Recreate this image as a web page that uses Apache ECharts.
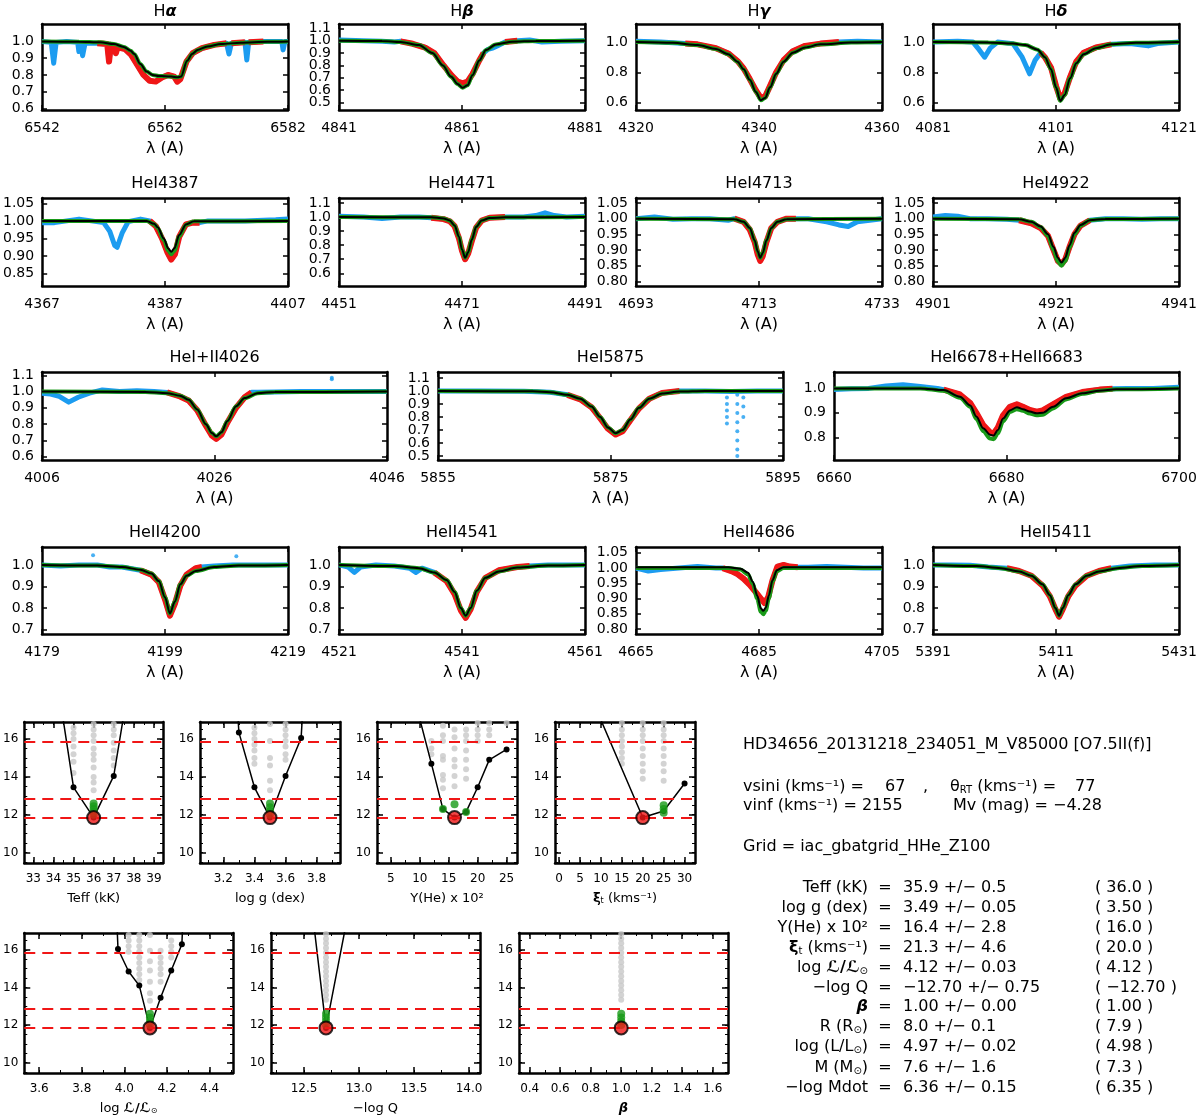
<!DOCTYPE html>
<html>
<head>
<meta charset="utf-8">
<script src="https://cdn.jsdelivr.net/npm/echarts@6/dist/echarts.min.js"></script>
<style>
html, body { margin: 0; padding: 0; background: #fff; }
#main { width: 1200px; height: 1116px; }
</style>
</head>
<body>
<div id="main"></div>
<script>
// ---- line profiles: [wavelength (A), normalised flux] ----
var haObs = [[6542,1.0],[6543.5,0.995],[6543.9,0.87],[6544.3,0.995],[6546,1.0],[6547.8,0.995],[6548,0.94],[6548.3,0.99],[6548.6,0.915],[6549,0.99],[6551,0.99],[6552.6,0.985],[6552.9,0.88],[6553.2,0.98],[6553.8,0.97],[6554,0.93],[6554.3,0.965],[6555.5,0.955],[6556.5,0.92],[6557.5,0.86],[6558.5,0.8],[6559.5,0.765],[6560.5,0.76],[6561.5,0.785],[6562.5,0.8],[6563.5,0.79],[6564,0.76],[6564.5,0.775],[6565.5,0.88],[6566.5,0.93],[6568,0.96],[6570,0.98],[6572,0.99],[6572.4,0.925],[6572.8,0.99],[6575,0.995],[6575.3,0.89],[6575.6,0.995],[6578,1.0],[6581,1.0],[6581.2,0.95],[6581.5,1.0],[6582,1.0]];
var haFit = [[6542,1.0],[6548,0.999],[6551.5,0.995],[6553.7,0.985],[6555.3,0.968],[6556.4,0.945],[6557,0.925],[6558,0.865],[6559,0.82],[6560,0.8],[6561,0.794],[6562,0.792],[6563,0.79],[6564,0.786],[6564.6,0.79],[6565.6,0.885],[6566.4,0.925],[6567.3,0.95],[6568.9,0.97],[6571.1,0.985],[6574.3,0.993],[6578.7,0.998],[6582,1.0]];
var haWin = [[6549.3,6572.2],[6572.6,6575.1],[6575.5,6578.7]];

var hbObs = [[4841,1.005],[4845,1.0],[4848,0.995],[4850,0.99],[4851,0.995],[4853,0.975],[4855,0.945],[4856.5,0.9],[4858,0.8],[4859.3,0.72],[4860.3,0.67],[4861.1,0.655],[4861.9,0.67],[4862.7,0.73],[4863.8,0.84],[4864.5,0.9],[4865.2,0.93],[4866,0.94],[4866.8,0.96],[4868,0.99],[4870,1.0],[4872,1.005],[4874,0.99],[4877,0.995],[4881,1.0]];
var hbFit = [[4841,1.0],[4848,0.998],[4851,0.99],[4854,0.965],[4856.2,0.9],[4857.9,0.8],[4859.2,0.71],[4860.3,0.65],[4861.1,0.62],[4861.9,0.64],[4862.7,0.72],[4863.8,0.84],[4864.9,0.925],[4866.5,0.97],[4869.2,0.992],[4873,0.998],[4881,1.0]];
var hbWin = [[4850.8,4864.9],[4868,4871.9]];

var hgObs = [[4320,1.005],[4324,1.0],[4328,0.99],[4330,0.985],[4333,0.96],[4335,0.925],[4336.5,0.875],[4337.5,0.825],[4338.5,0.755],[4339.5,0.68],[4340.3,0.63],[4341,0.64],[4341.8,0.71],[4342.8,0.8],[4344,0.88],[4345.5,0.94],[4347.5,0.975],[4350,0.99],[4353,1.0],[4356,1.005],[4360,1.0]];
var hgFit = [[4320,1.0],[4326,0.995],[4330,0.98],[4333,0.955],[4335,0.92],[4336.5,0.87],[4337.5,0.82],[4338.5,0.75],[4339.5,0.67],[4340.3,0.615],[4341,0.63],[4341.8,0.7],[4342.8,0.79],[4344,0.87],[4345.5,0.93],[4347.5,0.965],[4350,0.985],[4355,0.997],[4360,1.0]];
var hgWin = [[4328,4353]];

var hdObs = [[4081,1.0],[4085,1.005],[4087.5,1.0],[4088.5,0.95],[4089.4,0.9],[4090.3,0.96],[4091.5,1.0],[4094,0.99],[4095.5,0.9],[4096.7,0.79],[4097.6,0.88],[4098.5,0.93],[4099.2,0.9],[4100.2,0.83],[4101,0.71],[4101.7,0.625],[4102.4,0.66],[4103.3,0.77],[4104.3,0.87],[4105.5,0.93],[4107.5,0.965],[4110,0.985],[4113,0.99],[4116,0.975],[4117.5,0.99],[4121,1.0]];
var hdFit = [[4081,1.0],[4090,0.998],[4094,0.99],[4096,0.98],[4098,0.95],[4099.2,0.9],[4100.2,0.82],[4101,0.7],[4101.7,0.61],[4102.4,0.65],[4103.3,0.76],[4104.3,0.86],[4105.5,0.92],[4107.5,0.96],[4110,0.985],[4114,0.995],[4121,1.0]];
var hdWin = [[4098.5,4110]];

var he4387Obs = [[4367,0.995],[4369,0.995],[4371,1.0],[4373,1.005],[4375,1.0],[4377,0.995],[4378,0.97],[4378.8,0.93],[4379.2,0.925],[4380,0.965],[4381,0.998],[4383,1.005],[4384.5,1.0],[4385.5,0.985],[4386.5,0.95],[4387.4,0.91],[4388,0.89],[4388.6,0.905],[4389.3,0.955],[4390.4,0.99],[4391.5,0.995],[4392.6,0.995],[4394,1.0],[4397,1.0],[4400,1.0],[4403,1.002],[4405,1.003],[4407,1.005]];
var he4387Fit = [[4367,1.0],[4384,1.0],[4385.2,0.992],[4385.8,0.982],[4386.8,0.95],[4387.5,0.922],[4388,0.912],[4388.5,0.922],[4389.3,0.96],[4390.4,0.99],[4391.7,0.999],[4407,1.0]];
var he4387Mod = [[4367,1.0],[4384,1.0],[4385.2,0.991],[4385.8,0.98],[4386.8,0.945],[4387.5,0.915],[4388,0.905],[4388.5,0.915],[4389.3,0.956],[4390.4,0.989],[4391.7,0.999],[4407,1.0]];
var he4387Win = [[4384.5,4392.6]];

var he4471Obs = [[4451,1.005],[4455,1.0],[4458,0.99],[4461,1.0],[4464,1.0],[4466,0.995],[4468,0.985],[4469,0.97],[4469.8,0.935],[4470.5,0.85],[4471,0.76],[4471.5,0.7],[4472,0.74],[4472.6,0.83],[4473.3,0.925],[4474.2,0.975],[4475.5,0.995],[4478,1.0],[4481,1.0],[4483,1.01],[4484.5,1.03],[4486,1.01],[4488,1.0],[4491,1.005]];
var he4471Fit = [[4451,1.0],[4466,0.998],[4468,0.99],[4469,0.975],[4469.8,0.94],[4470.5,0.86],[4471,0.77],[4471.5,0.71],[4472,0.75],[4472.6,0.84],[4473.3,0.93],[4474.2,0.975],[4475.5,0.993],[4478,0.998],[4491,1.0]];
var he4471Win = [[4465,4478]];

var he4713Obs = [[4693,1.0],[4696,1.005],[4699,0.998],[4702,1.0],[4705,1.0],[4708,0.995],[4709,1.0],[4710.5,0.99],[4711.5,0.965],[4712.3,0.925],[4712.8,0.885],[4713.2,0.865],[4713.6,0.88],[4714.2,0.925],[4715,0.97],[4716,0.99],[4717.5,1.0],[4719,1.0],[4721,1.0],[4724,0.99],[4726,0.98],[4727.5,0.975],[4729,0.99],[4731,0.995],[4733,1.0]];
var he4713Fit = [[4693,1.0],[4709,0.998],[4710.5,0.99],[4711.5,0.97],[4712.3,0.93],[4712.8,0.895],[4713.2,0.875],[4713.6,0.89],[4714.2,0.93],[4715,0.97],[4716,0.99],[4717.5,0.998],[4733,1.0]];
var he4713Win = [[4708.5,4719]];

var he4922Obs = [[4901,1.005],[4903,1.01],[4905,1.008],[4907,1.0],[4910,1.0],[4913,0.998],[4915,0.995],[4917,0.985],[4918.5,0.97],[4919.7,0.945],[4920.6,0.9],[4921.3,0.865],[4921.9,0.855],[4922.5,0.87],[4923.2,0.91],[4924,0.95],[4925,0.978],[4926.5,0.995],[4929,1.0],[4932,1.0],[4935,0.998],[4938,1.0],[4941,1.0]];
var he4922Fit = [[4901,1.0],[4915,0.998],[4917,0.99],[4918.5,0.975],[4919.7,0.95],[4920.6,0.91],[4921.3,0.875],[4921.9,0.86],[4922.5,0.875],[4923.2,0.915],[4924,0.955],[4925,0.98],[4926.5,0.995],[4929,0.999],[4941,1.0]];
var he4922Mod = [[4901,1.0],[4915,0.998],[4917,0.99],[4918.5,0.973],[4919.7,0.945],[4920.6,0.9],[4921.3,0.863],[4921.9,0.85],[4922.5,0.865],[4923.2,0.908],[4924,0.95],[4925,0.978],[4926.5,0.995],[4929,0.999],[4941,1.0]];
var he4922Win = [[4913.5,4927]];

var he4026Obs = [[4006,0.99],[4007,0.985],[4008,0.97],[4009.1,0.935],[4010.2,0.965],[4011.5,0.99],[4013,1.01],[4015,1.0],[4017,1.005],[4019,1.0],[4020.5,0.995],[4022,0.97],[4023,0.945],[4024,0.885],[4025,0.79],[4025.7,0.73],[4026.2,0.71],[4026.8,0.735],[4027.5,0.81],[4028.5,0.9],[4029.5,0.965],[4030.3,0.995],[4031,0.995],[4033,0.998],[4036,1.0],[4039,1.0],[4042,1.0],[4046,1.0]];
var he4026Dots = [[4039.6,1.085],[4039.6,1.075]];
var he4026Fit = [[4006,1.0],[4018,0.998],[4020.5,0.99],[4022,0.975],[4023,0.95],[4024,0.89],[4025,0.8],[4025.7,0.745],[4026.2,0.725],[4026.8,0.75],[4027.5,0.82],[4028.5,0.91],[4029.5,0.96],[4031,0.99],[4033,0.997],[4046,1.0]];
var he4026Win = [[4020.5,4030.9]];

var he5875Obs = [[5855,1.0],[5860,1.0],[5865,0.998],[5868,0.99],[5870,0.97],[5871.5,0.935],[5872.8,0.875],[5873.8,0.79],[5874.7,0.71],[5875.6,0.665],[5876.4,0.69],[5877.3,0.775],[5878.3,0.865],[5879.5,0.94],[5881,0.985],[5883,1.0],[5886,1.0],[5889,0.995],[5892,1.0],[5895,1.0]];
var he5875Dots = [[5888.5,0.95],[5888.5,0.9],[5888.5,0.85],[5888.5,0.8],[5888.5,0.75],[5889.7,0.97],[5889.7,0.9],[5889.7,0.83],[5889.7,0.76],[5889.7,0.69],[5889.7,0.62],[5889.7,0.55],[5889.7,0.5],[5890.4,0.95],[5890.4,0.88],[5890.4,0.8]];
var he5875Fit = [[5855,1.0],[5866,0.997],[5868,0.99],[5870,0.97],[5871.5,0.94],[5872.8,0.88],[5873.8,0.8],[5874.7,0.72],[5875.6,0.675],[5876.4,0.7],[5877.3,0.78],[5878.3,0.87],[5879.5,0.94],[5881,0.98],[5883,0.995],[5886,1.0],[5895,1.0]];
var he5875Win = [[5869,5883]];

var he6678Obs = [[6660,0.995],[6662,0.998],[6664,1.0],[6666,1.01],[6668,1.015],[6670,1.008],[6672,1.0],[6672.7,0.995],[6674.6,0.975],[6675.8,0.94],[6676.5,0.9],[6677.3,0.85],[6678.1,0.82],[6678.5,0.815],[6679,0.84],[6679.6,0.89],[6680.4,0.925],[6681.2,0.935],[6681.9,0.925],[6682.7,0.912],[6683.5,0.905],[6684.2,0.91],[6685.4,0.935],[6686.9,0.965],[6688.8,0.985],[6690.8,0.995],[6692.3,0.998],[6694,1.0],[6697,1.0],[6700,1.005]];
var he6678Fit = [[6660,1.0],[6670,1.0],[6672.7,0.993],[6674.6,0.966],[6675.8,0.93],[6676.5,0.885],[6677.3,0.837],[6678.1,0.81],[6678.5,0.807],[6679,0.83],[6679.6,0.877],[6680.4,0.91],[6681.2,0.923],[6681.9,0.915],[6682.7,0.905],[6683.5,0.898],[6684.2,0.9],[6685.4,0.925],[6686.9,0.96],[6688.8,0.98],[6690.8,0.99],[6692.7,0.996],[6700,1.0]];
var he6678Mod = [[6660,1.0],[6670,1.0],[6672.7,0.99],[6674.6,0.962],[6675.8,0.925],[6676.5,0.875],[6677.3,0.825],[6678.1,0.795],[6678.5,0.792],[6679,0.815],[6679.6,0.865],[6680.4,0.903],[6681.2,0.915],[6681.9,0.908],[6682.7,0.897],[6683.5,0.89],[6684.2,0.892],[6685.4,0.918],[6686.9,0.955],[6688.8,0.978],[6690.8,0.99],[6692.7,0.996],[6700,1.0]];
var he6678Win = [[6672.7,6692.3]];

var he4200Obs = [[4179,1.0],[4182,0.995],[4185,1.0],[4188,1.0],[4190,0.99],[4192,0.99],[4195,0.975],[4196.8,0.955],[4198,0.92],[4199,0.84],[4199.8,0.765],[4200.6,0.82],[4201.5,0.905],[4202.5,0.955],[4204,0.985],[4205,0.99],[4207,0.995],[4210,1.0],[4214,1.0],[4219,1.0]];
var he4200Dots = [[4187.3,1.045],[4210.6,1.04]];
var he4200Fit = [[4179,1.0],[4188,0.997],[4192,0.99],[4195,0.978],[4196.8,0.96],[4198,0.925],[4199,0.85],[4199.8,0.775],[4200.6,0.83],[4201.5,0.91],[4202.5,0.95],[4204,0.972],[4207,0.99],[4211,0.997],[4219,1.0]];
var he4200Win = [[4192.5,4206]];

var he4541Obs = [[4521,1.0],[4522.5,0.99],[4523.5,0.965],[4524.5,0.99],[4527,1.0],[4530,0.995],[4532.5,0.985],[4533.5,0.965],[4534.5,0.985],[4536.5,0.965],[4538.5,0.925],[4539.8,0.865],[4540.8,0.79],[4541.6,0.755],[4542.4,0.795],[4543.4,0.875],[4544.8,0.94],[4547,0.975],[4550,0.99],[4552,0.995],[4555,1.0],[4558,1.0],[4561,1.0]];
var he4541Fit = [[4521,1.0],[4530,0.995],[4534,0.985],[4536.5,0.965],[4538.5,0.93],[4539.8,0.875],[4540.8,0.8],[4541.6,0.765],[4542.4,0.8],[4543.4,0.88],[4544.8,0.94],[4547,0.97],[4550,0.988],[4555,0.997],[4561,1.0]];
var he4541Win = [[4535.5,4552]];

var he4686Obs = [[4665,1.0],[4667,0.99],[4669,0.995],[4672,1.0],[4675,1.005],[4678,1.0],[4679.1,1.0],[4680.5,0.99],[4681.5,0.98],[4682.5,0.965],[4683.5,0.945],[4684.5,0.92],[4685.3,0.9],[4685.9,0.885],[4686.5,0.905],[4687.2,0.96],[4688,1.005],[4689,1.01],[4690,1.005],[4691.3,1.003],[4693,1.003],[4696,1.005],[4699,1.003],[4702,1.0],[4705,1.0]];
var he4686Fit = [[4665,1.003],[4680,1.003],[4682,0.998],[4683.2,0.985],[4684,0.955],[4684.7,0.91],[4685.3,0.868],[4685.7,0.86],[4686.1,0.87],[4686.6,0.91],[4687.2,0.96],[4687.9,0.993],[4689,1.003],[4705,1.003]];
var he4686Mod = [[4665,1.0],[4680,1.0],[4682,0.995],[4683.2,0.98],[4684,0.948],[4684.7,0.9],[4685.3,0.857],[4685.7,0.849],[4686.1,0.86],[4686.6,0.9],[4687.2,0.955],[4687.9,0.99],[4689,1.0],[4705,1.0]];
var he4686Win = [[4679.1,4691.3]];

var he5411Obs = [[5391,1.0],[5394,1.0],[5397,0.998],[5400,0.99],[5403,0.985],[5405,0.972],[5407,0.95],[5408.8,0.905],[5410,0.855],[5410.9,0.795],[5411.5,0.76],[5412.1,0.795],[5413,0.855],[5414.2,0.905],[5416,0.95],[5418,0.972],[5420,0.985],[5423,0.995],[5427,1.0],[5431,1.0]];
var he5411Fit = [[5391,1.0],[5398,0.995],[5402,0.985],[5405,0.97],[5407,0.95],[5408.8,0.91],[5410,0.86],[5410.9,0.8],[5411.5,0.765],[5412.1,0.8],[5413,0.86],[5414.2,0.91],[5416,0.95],[5418,0.97],[5421,0.985],[5425,0.995],[5431,1.0]];
var he5411Win = [[5402,5420]];

// y tick labels used by the profile panels
var ticksA = [0.6, 0.7, 0.8, 0.9, 1.0];
var ticksB = [0.5, 0.6, 0.7, 0.8, 0.9, 1.0, 1.1];
var ticksC = [0.6, 0.8, 1.0];
var ticksD = [0.85, 0.90, 0.95, 1.00, 1.05];
var ticksE = [0.80, 0.85, 0.90, 0.95, 1.00, 1.05];
var ticksF = [0.6, 0.7, 0.8, 0.9, 1.0, 1.1];
var ticksG = [0.8, 0.9, 1.0];
var ticksH = [0.7, 0.8, 0.9, 1.0];

// ---- chi-square panels: [parameter value, chi2] ----
var chiLevels = [11.85, 12.85, 15.85];
var chiTicks = [10, 12, 14, 16];

var teffTicks = [33, 34, 35, 36, 37, 38, 39];
var teffGray = [[35,16.6],[35,16.3],[35,16.0],[35,15.6],[35,15.2],[35,14.8],[35,14.2],[36,16.8],[36,16.5],[36,16.2],[36,15.9],[36,15.5],[36,15.2],[36,14.9],[36,14.5],[36,14.0],[36,13.7],[36,13.3],[37,16.8],[37,16.5],[37,16.2],[37,15.8],[37,15.4],[37,15.0],[37,14.6]];
var teffBlack = [[34,20.4],[35,13.45],[36,11.85],[37,14.05],[38,20.5]];
var teffGreen = [[36,12.0],[36,12.15],[36,12.3],[36,12.45],[36,12.6]];
var teffBest = [[36,11.85]];

var loggTicks = [3.2, 3.4, 3.6, 3.8];
var loggGray = [[3.4,16.6],[3.4,16.3],[3.4,16.0],[3.4,15.7],[3.4,15.4],[3.4,15.0],[3.4,14.7],[3.5,16.8],[3.5,15.9],[3.5,15.0],[3.5,14.6],[3.5,13.8],[3.5,13.3],[3.6,16.8],[3.6,16.5],[3.6,16.2],[3.6,15.9],[3.6,15.6],[3.6,15.2],[3.6,14.9]];
var loggBlack = [[3.2,30],[3.3,16.35],[3.4,13.45],[3.5,11.85],[3.6,14.05],[3.7,16.05],[3.8,30]];
var loggGreen = [[3.5,12.0],[3.5,12.2],[3.5,12.4],[3.5,12.6]];
var loggBest = [[3.5,11.85]];

var yheTicks = [5, 10, 15, 20, 25];
var yheGray = [[12,15.9],[12,15.5],[12,15.2],[14,16.7],[14,16.2],[14,15.9],[14,15.1],[14,14.9],[14,14.1],[14,13.85],[14,13.4],[16,16.5],[16,16.1],[16,15.5],[16,14.9],[16,14.55],[16,14.05],[16,13.5],[18,16.5],[18,16.2],[18,15.9],[18,15.4],[18,14.9],[18,14.4],[18,13.9],[20,16.85],[20,16.5],[20,16.2],[20,15.9],[22,16.85],[22,16.5],[22,16.2],[25,16.85]];
var yheBlack = [[10,17.05],[12,14.7],[14,12.3],[16,11.85],[18,12.15],[20,13.45],[22,14.9],[25,15.45]];
var yheGreen = [[14,12.3],[16,12.55],[18,12.15]];
var yheBest = [[16,11.85]];

var xiTicks = [0, 5, 10, 15, 20, 25, 30];
var xiGray = [[15,16.85],[15,16.5],[15,16.2],[15,15.9],[15,15.6],[15,15.3],[15,15.0],[15,14.7],[20,16.85],[20,16.5],[20,16.2],[20,15.9],[20,15.5],[20,15.1],[20,14.7],[20,14.3],[20,13.9],[25,16.85],[25,16.5],[25,16.2],[25,15.9],[25,15.5],[25,15.1],[25,14.7],[25,14.3],[25,13.8]];
var xiBlack = [[10,17.0],[20,11.85],[25,12.2],[30,13.65]];
var xiGreen = [[25,12.1],[25,12.3],[25,12.5]];
var xiBest = [[20,11.85]];

var logLTicks = [3.6, 3.8, 4.0, 4.2, 4.4];
var logLGray = [[4.02,16.8],[4.02,16.5],[4.02,16.2],[4.02,15.9],[4.07,16.8],[4.07,16.5],[4.07,16.2],[4.07,15.9],[4.07,15.6],[4.07,15.3],[4.07,15.0],[4.07,14.7],[4.07,14.4],[4.12,16.8],[4.12,15.95],[4.12,15.4],[4.12,14.9],[4.12,14.3],[4.12,13.7],[4.12,13.3],[4.17,15.95],[4.17,15.6],[4.17,15.3],[4.17,15.0],[4.17,14.7],[4.17,14.3],[4.22,16.5],[4.22,16.2],[4.22,15.9],[4.22,15.6]];
var logLBlack = [[3.92,30],[3.97,16.05],[4.02,14.85],[4.07,14.1],[4.12,11.85],[4.17,13.45],[4.22,14.9],[4.27,16.3],[4.32,30]];
var logLGreen = [[4.12,12.0],[4.12,12.2],[4.12,12.4],[4.12,12.6]];
var logLBest = [[4.12,11.85]];

var logQTicks = [12.5, 13.0, 13.5, 14.0];
var logQGray = [[12.7,16.85],[12.7,16.6],[12.7,16.35],[12.7,16.1],[12.7,15.85],[12.7,15.6],[12.7,15.35],[12.7,15.1],[12.7,14.85],[12.7,14.6],[12.7,14.35],[12.7,14.1],[12.7,13.85],[12.7,13.6],[12.7,13.35]];
var logQBlack = [[12.5,21.8],[12.7,11.85],[12.9,17.9]];
var logQGreen = [[12.7,12.0],[12.7,12.2],[12.7,12.4],[12.7,12.6]];
var logQBest = [[12.7,11.85]];

var betaTicks = [0.4, 0.6, 0.8, 1.0, 1.2, 1.4, 1.6];
var betaGray = [[1.0,16.85],[1.0,16.6],[1.0,16.35],[1.0,16.1],[1.0,15.85],[1.0,15.6],[1.0,15.35],[1.0,15.1],[1.0,14.85],[1.0,14.6],[1.0,14.35],[1.0,14.1],[1.0,13.85],[1.0,13.6],[1.0,13.35]];
var betaBlack = [];
var betaGreen = [[1.0,12.0],[1.0,12.2],[1.0,12.4],[1.0,12.6]];
var betaBest = [[1.0,11.85]];

// ---- text block ----
var starHeader = 'HD34656_20131218_234051_M_V85000 [O7.5II(f)]';
var gridName = 'Grid = iac_gbatgrid_HHe_Z100';
var paramLabels = ['Teff (kK)', 'log g (dex)', 'Y(He) x 10²', '{b|ξ}{sub|t} (kms⁻¹)', 'log {b|ℒ/ℒ}{sub|⊙}', '−log Q', '{bi|β}', 'R (R{sub|⊙})', 'log (L/L{sub|⊙})', 'M (M{sub|⊙})', '−log Mdot'];
var paramValues = ['35.9 +/− 0.5', '3.49 +/− 0.05', '16.4 +/− 2.8', '21.3 +/− 4.6', '4.12 +/− 0.03', '−12.70 +/− 0.75', '1.00 +/− 0.00', '8.0 +/− 0.1', '4.97 +/− 0.02', '7.6 +/− 1.6', '6.36 +/− 0.15'];
var paramBest = ['( 36.0 )', '( 3.50 )', '( 16.0 )', '( 20.0 )', '( 4.12 )', '( −12.70 )', '( 1.00 )', '( 7.9 )', '( 4.98 )', '( 7.3 )', '( 6.35 )'];

// ------------------------------------------------------------------
var FONT = 'DejaVu Sans';
var BLUE = '#1c9cf0', RED = '#f01616', GREEN = '#189a18', GRAY = '#c8c8c8';

function rs(size, extra) {
  return Object.assign({fontFamily: FONT, fontSize: size, color: '#000', fill: '#000'}, extra || {});
}
function richSet(size) {
  return {
    sub: rs(Math.round(size * 0.62), {verticalAlign: 'bottom', lineHeight: Math.round(size * 0.62)}),
    b: rs(size, {fontWeight: 'bold'}),
    bi: rs(size, {fontWeight: 'bold', fontStyle: 'italic'})
  };
}

var specPanels = [
  {title: 'H{bi|α}', lo: 6542, mid: 6562, hi: 6582, y: [0.59, 1.105], yt: ticksA, dec: 1, obs: haObs, fit: haFit, mod: haFit, win: haWin},
  {title: 'H{bi|β}', lo: 4841, mid: 4861, hi: 4881, y: [0.44, 1.135], yt: ticksB, dec: 1, obs: hbObs, fit: hbFit, mod: hbFit, win: hbWin},
  {title: 'H{bi|γ}', lo: 4320, mid: 4340, hi: 4360, y: [0.55, 1.12], yt: ticksC, dec: 1, obs: hgObs, fit: hgFit, mod: hgFit, win: hgWin},
  {title: 'H{bi|δ}', lo: 4081, mid: 4101, hi: 4121, y: [0.55, 1.12], yt: ticksC, dec: 1, obs: hdObs, fit: hdFit, mod: hdFit, win: hdWin},
  {title: 'HeI4387', lo: 4367, mid: 4387, hi: 4407, y: [0.815, 1.065], yt: ticksD, dec: 2, obs: he4387Obs, fit: he4387Fit, mod: he4387Mod, win: he4387Win},
  {title: 'HeI4471', lo: 4451, mid: 4471, hi: 4491, y: [0.51, 1.135], yt: ticksF, dec: 1, obs: he4471Obs, fit: he4471Fit, mod: he4471Fit, win: he4471Win},
  {title: 'HeI4713', lo: 4693, mid: 4713, hi: 4733, y: [0.785, 1.066], yt: ticksE, dec: 2, obs: he4713Obs, fit: he4713Fit, mod: he4713Fit, win: he4713Win},
  {title: 'HeI4922', lo: 4901, mid: 4921, hi: 4941, y: [0.785, 1.066], yt: ticksE, dec: 2, obs: he4922Obs, fit: he4922Fit, mod: he4922Mod, win: he4922Win},
  {title: 'HeI+II4026', lo: 4006, mid: 4026, hi: 4046, y: [0.58, 1.12], yt: ticksF, dec: 1, obs: he4026Obs, fit: he4026Fit, mod: he4026Fit, win: he4026Win, dots: he4026Dots},
  {title: 'HeI5875', lo: 5855, mid: 5875, hi: 5895, y: [0.47, 1.145], yt: ticksB, dec: 1, obs: he5875Obs, fit: he5875Fit, mod: he5875Fit, win: he5875Win, dots: he5875Dots},
  {title: 'HeI6678+HeII6683', lo: 6660, mid: 6680, hi: 6700, y: [0.707, 1.067], yt: ticksG, dec: 1, obs: he6678Obs, fit: he6678Fit, mod: he6678Mod, win: he6678Win},
  {title: 'HeII4200', lo: 4179, mid: 4199, hi: 4219, y: [0.68, 1.083], yt: ticksH, dec: 1, obs: he4200Obs, fit: he4200Fit, mod: he4200Fit, win: he4200Win, dots: he4200Dots},
  {title: 'HeII4541', lo: 4521, mid: 4541, hi: 4561, y: [0.68, 1.083], yt: ticksH, dec: 1, obs: he4541Obs, fit: he4541Fit, mod: he4541Fit, win: he4541Win},
  {title: 'HeII4686', lo: 4665, mid: 4685, hi: 4705, y: [0.784, 1.069], yt: ticksE, dec: 2, obs: he4686Obs, fit: he4686Fit, mod: he4686Mod, win: he4686Win},
  {title: 'HeII5411', lo: 5391, mid: 5411, hi: 5431, y: [0.68, 1.083], yt: ticksH, dec: 1, obs: he5411Obs, fit: he5411Fit, mod: he5411Fit, win: he5411Win}
];

var chiPanels = [
  {name: 'Teff (kK)', xr: [32.55, 39.45], xt: teffTicks, dec: 0, gray: teffGray, black: teffBlack, green: teffGreen, best: teffBest},
  {name: 'log g (dex)', xr: [3.05, 3.95], xt: loggTicks, dec: 1, gray: loggGray, black: loggBlack, green: loggGreen, best: loggBest},
  {name: 'Y(He) x 10²', xr: [2.6, 26.8], xt: yheTicks, dec: 0, gray: yheGray, black: yheBlack, green: yheGreen, best: yheBest},
  {name: '{b|ξ}{sub|t} (kms⁻¹)', xr: [-1, 32.5], xt: xiTicks, dec: 0, gray: xiGray, black: xiBlack, green: xiGreen, best: xiBest},
  {name: 'log {b|ℒ/ℒ}{sub|⊙}', xr: [3.53, 4.51], xt: logLTicks, dec: 1, gray: logLGray, black: logLBlack, green: logLGreen, best: logLBest},
  {name: '−log Q', xr: [12.2, 14.1], xt: logQTicks, dec: 1, gray: logQGray, black: logQBlack, green: logQGreen, best: logQBest},
  {name: '{bi|β}', xr: [0.33, 1.70], xt: betaTicks, dec: 1, gray: betaGray, black: betaBlack, green: betaGreen, best: betaBest}
];

// ---- layout ----
var specRows = [
  {top: 24, h: 86, titleY: 12, cols: 4},
  {top: 198, h: 88, titleY: 184, cols: 4},
  {top: 372, h: 88, titleY: 358, cols: 3},
  {top: 547, h: 87, titleY: 533, cols: 4}
];
var chiBoxes = [
  {l: 23, t: 722, w: 140, h: 141}, {l: 200, t: 722, w: 140, h: 141}, {l: 377, t: 722, w: 140, h: 141}, {l: 555, t: 722, w: 140, h: 141},
  {l: 24, t: 933, w: 209, h: 140}, {l: 271, t: 933, w: 209, h: 140}, {l: 519, t: 933, w: 209, h: 140}
];

var grids = [], xAxes = [], yAxes = [], series = [], graphics = [];

function addAxis(list, gi, pos, min, max, ticks, len, tickW, label, extra, noLine) {
  var ax = {
    type: 'value', gridIndex: gi, position: pos, min: min, max: max,
    axisLine: {show: !noLine, onZero: false, lineStyle: {color: '#000', width: 2.5}},
    axisTick: {show: true, inside: true, length: len, customValues: ticks, lineStyle: {color: '#000', width: tickW}},
    axisLabel: label ? Object.assign({show: true, customValues: ticks, hideOverlap: false, color: '#000', fontFamily: FONT}, label) : {show: false},
    splitLine: {show: false}
  };
  if (extra) Object.assign(ax, extra);
  list.push(ax);
  return list.length - 1;
}

function minorList(major, sub, min, max) {
  var step = (major[1] - major[0]) / sub, out = [];
  var start = major[0] - sub * step, end = major[major.length - 1] + sub * step;
  for (var k = 0; start + k * step <= end + 1e-9; k++) {
    var v = +(start + k * step).toFixed(6);
    if (v > min && v < max) out.push(v);
  }
  return out;
}

function addText(x, y, str, size, align, extra) {
  graphics.push({
    type: 'text', x: x, y: y, silent: true, z: 100,
    style: Object.assign({text: str, fill: '#000', fontFamily: FONT, fontSize: size, align: align || 'left', verticalAlign: 'middle', rich: richSet(size)}, extra || {})
  });
}

function addSpectrum(p, box, titleY) {
  var gi = grids.length;
  grids.push({left: box.l, top: box.t, width: box.w, height: box.h});
  var xt = [p.lo, p.mid, p.hi];
  var xi = addAxis(xAxes, gi, 'bottom', p.lo, p.hi, xt, 5, 1.5,
    {fontSize: 14, margin: 11, formatter: function (v) { return String(Math.round(v)); }},
    {name: 'λ (A)', nameLocation: 'middle', nameGap: 31, nameTextStyle: {fontFamily: FONT, fontSize: 16, color: '#000'}});
  addAxis(xAxes, gi, 'top', p.lo, p.hi, xt, 5, 1.5, null);
  // densely packed y labels are split over two overlaid axes so none get dropped
  var evens = p.yt.filter(function (v, k) { return k % 2 === 0; });
  var odds = p.yt.filter(function (v, k) { return k % 2 === 1; });
  var fmt = function (v) { return v.toFixed(p.dec); };
  var yi = addAxis(yAxes, gi, 'left', p.y[0], p.y[1], p.yt, 5, 1.5,
    {fontSize: 14, margin: 8, customValues: evens, formatter: fmt});
  addAxis(yAxes, gi, 'left', p.y[0], p.y[1], odds, 5, 1.5,
    {fontSize: 14, margin: 8, customValues: odds, formatter: fmt}, null, true);
  addAxis(yAxes, gi, 'right', p.y[0], p.y[1], p.yt, 5, 1.5, null);

  var base = {type: 'line', xAxisIndex: xi, yAxisIndex: yi, showSymbol: false, symbol: 'none', silent: true, animation: false};
  series.push(Object.assign({}, base, {data: p.obs, lineStyle: {color: BLUE, width: 5, join: 'round'}, z: 2}));
  if (p.dots) {
    series.push({type: 'scatter', xAxisIndex: xi, yAxisIndex: yi, data: p.dots, symbolSize: 4, itemStyle: {color: BLUE}, silent: true, z: 2});
  }
  p.win.forEach(function (w) {
    var seg = p.obs.filter(function (d) { return d[0] >= w[0] && d[0] <= w[1]; });
    series.push(Object.assign({}, base, {data: seg, lineStyle: {color: RED, width: 6, join: 'round'}, z: 3}));
  });
  series.push(Object.assign({}, base, {data: p.mod, smooth: 0.3, smoothMonotone: 'x', lineStyle: {color: GREEN, width: 4}, z: 4}));
  series.push(Object.assign({}, base, {data: p.fit, smooth: 0.3, smoothMonotone: 'x', lineStyle: {color: '#000', width: 2}, z: 5}));

  addText(box.l + box.w / 2, titleY, p.title, 16, 'center');
}

function addChi(p, box) {
  var gi = grids.length;
  grids.push({left: box.l, top: box.t, width: box.w, height: box.h});
  var yr = [9.45, 16.9];
  var xMinor = minorList(p.xt, 2, p.xr[0], p.xr[1]);
  var yMinor = minorList(chiTicks, 4, yr[0], yr[1]);
  var xi = addAxis(xAxes, gi, 'bottom', p.xr[0], p.xr[1], p.xt, 6, 1.5,
    {fontSize: 12, margin: 10, formatter: function (v) { return v.toFixed(p.dec); }},
    {name: p.name, nameLocation: 'middle', nameGap: 29,
     nameTextStyle: {fontFamily: FONT, fontSize: 13, color: '#000', rich: richSet(13)}});
  addAxis(xAxes, gi, 'top', p.xr[0], p.xr[1], p.xt, 6, 1.5, null);
  addAxis(xAxes, gi, 'bottom', p.xr[0], p.xr[1], xMinor, 3, 1, null, null, true);
  addAxis(xAxes, gi, 'top', p.xr[0], p.xr[1], xMinor, 3, 1, null, null, true);
  var yi = addAxis(yAxes, gi, 'left', yr[0], yr[1], chiTicks, 6, 1.5,
    {fontSize: 12, margin: 6, formatter: function (v) { return String(v); }});
  addAxis(yAxes, gi, 'right', yr[0], yr[1], chiTicks, 6, 1.5, null);
  addAxis(yAxes, gi, 'left', yr[0], yr[1], yMinor, 3, 1, null, null, true);
  addAxis(yAxes, gi, 'right', yr[0], yr[1], yMinor, 3, 1, null, null, true);

  series.push({
    type: 'scatter', xAxisIndex: xi, yAxisIndex: yi, data: p.gray, symbolSize: 6,
    itemStyle: {color: GRAY}, silent: true, z: 2,
    markLine: {
      silent: true, symbol: 'none', label: {show: false}, animation: false,
      lineStyle: {color: RED, type: [11, 7], width: 2},
      data: chiLevels.map(function (v) { return {yAxis: v}; })
    }
  });
  if (p.black.length) {
    series.push({
      type: 'line', xAxisIndex: xi, yAxisIndex: yi, data: p.black, symbol: 'circle', symbolSize: 6,
      showAllSymbol: true, itemStyle: {color: '#000'}, lineStyle: {color: '#000', width: 1.5}, silent: true, z: 3, clip: true
    });
  }
  series.push({type: 'scatter', xAxisIndex: xi, yAxisIndex: yi, data: p.green, symbolSize: 8, itemStyle: {color: GREEN}, silent: true, z: 4});
  series.push({type: 'scatter', xAxisIndex: xi, yAxisIndex: yi, data: p.best, symbolSize: 13,
    itemStyle: {color: RED, borderColor: '#000', borderWidth: 2}, silent: true, z: 5});
}

// profile panels
var idx = 0;
specRows.forEach(function (row) {
  var w = row.cols === 4 ? 246 : 345;
  for (var c = 0; c < row.cols; c++) {
    var l = 42 + c * (w + 51);
    addSpectrum(specPanels[idx++], {l: l, t: row.top, w: w, h: row.h}, row.titleY);
  }
});

// chi-square panels
chiPanels.forEach(function (p, i) { addChi(p, chiBoxes[i]); });

// text block
addText(743, 745, starHeader, 16);
addText(743, 787, 'vsini (kms⁻¹) =', 16);
addText(885, 787, '67', 16);
addText(923, 787, ',', 16);
addText(950, 787, 'θ{sub|RT} (kms⁻¹) =', 16);
addText(1075, 787, '77', 16);
addText(743, 806, 'vinf (kms⁻¹) = 2155', 16);
addText(953, 806, 'Mv (mag) = −4.28', 16);
addText(743, 847, gridName, 16);
var rowY = [888, 908, 928, 948, 968, 988, 1007, 1027, 1047, 1068, 1088];
paramLabels.forEach(function (lab, i) {
  addText(868, rowY[i], lab, 16, 'right');
  addText(885, rowY[i], '=', 16, 'center');
  addText(903, rowY[i], paramValues[i], 16);
  addText(1095, rowY[i], paramBest[i], 16);
});

var chart = echarts.init(document.getElementById('main'));
chart.setOption({
  animation: false,
  backgroundColor: '#fff',
  textStyle: {fontFamily: FONT},
  grid: grids,
  xAxis: xAxes,
  yAxis: yAxes,
  series: series,
  graphic: graphics
});
</script>
</body>
</html>
